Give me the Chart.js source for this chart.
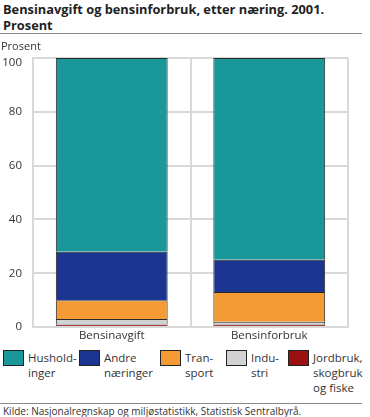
<!DOCTYPE html>
<html>
<head>
<meta charset="utf-8">
<script src="https://cdn.jsdelivr.net/npm/chart.js@4"></script>
<style>
  body { margin: 0; width: 370px; height: 417px; background: #fff; font-family: "Open Sans", sans-serif; color: #222; position: relative; overflow: hidden; }
  #title { position: absolute; left: 3px; top: 1px; font-weight: bold; font-size: 12.8px; line-height: 16px; }
  .rule { position: absolute; left: 0; width: 362px; height: 1px; background: #8a8a8a; }
  #unit { position: absolute; left: 1px; top: 38px; font-size: 11px; color: #333; }
  #chartBox { position: absolute; left: 0; top: 40px; width: 370px; height: 305px; }
  .leg { position: absolute; top: 350px; display: flex; font-size: 11.5px; line-height: 15px; color: #333; }
  .leg .box { width: 19px; height: 14px; border: 1px solid #222; margin-right: 4px; flex: none; }
  #source { position: absolute; left: 3px; top: 404px; font-size: 10px; color: #333; }
</style>
</head>
<body>
<div id="title">Bensinavgift og bensinforbruk, etter næring. 2001.<br>Prosent</div>
<div class="rule" style="top:33px"></div>
<div id="chartBox"><canvas id="chart"></canvas></div>
<div id="unit">Prosent</div>
<div id="legend"></div>
<div class="rule" style="top:403px"></div>
<div id="source">Kilde: Nasjonalregnskap og miljøstatistikk, Statistisk Sentralbyrå.</div>
<script>
// Data
const categories = ["Bensinavgift", "Bensinforbruk"];
const seriesNames = [["Jordbruk,", "skogbruk", "og fiske"], ["Indu-", "stri"], ["Tran-", "sport"], ["Andre", "næringer"], ["Hushold-", "inger"]];
const jordbruk = [1, 1];
const industri = [2, 1];
const transport = [7, 11];
const andre = [18, 12];
const husholdninger = [72, 75];
const yTicks = [0, 20, 40, 60, 80, 100];

const colors = ["#9b1010", "#d2d2d2", "#f59b35", "#1b3590", "#1a9799"];
const values = [jordbruk, industri, transport, andre, husholdninger];

const datasets = values.map((v, i) => ({
  label: seriesNames[i].join(" "),
  data: v,
  backgroundColor: colors[i],
  borderColor: "#2a2a2a",
  borderWidth: 1
}));

// push the top tick label down inside the plot, like the original
const topLabelShift = {
  id: "topLabelShift",
  beforeDraw(chart) {
    chart.scales.y.getLabelItems().forEach(item => {
      if (item.label === "100") item.options.translation[1] += 5;
    });
  }
};

const ctx = document.getElementById("chart").getContext("2d");
const chart = new Chart(ctx, {
  type: "bar",
  data: { labels: categories, datasets },
  plugins: [topLabelShift],
  options: {
    responsive: true,
    maintainAspectRatio: false,
    animation: false,
    layout: { padding: { top: 6, right: 22, bottom: 0, left: 0 } },
    datasets: { bar: { categoryPercentage: 1, barPercentage: 0.71 } },
    plugins: { legend: { display: false }, tooltip: { enabled: false } },
    scales: {
      x: {
        stacked: true,
        grid: { offset: true, color: "#d9d9d9", lineWidth: 2, drawTicks: false },
        border: { color: "#d9d9d9", width: 2 },
        ticks: { color: "#333", font: { family: "Open Sans", size: 11.5 }, padding: 2 }
      },
      y: {
        stacked: true,
        min: 0,
        max: 100,
        afterBuildTicks: axis => { axis.ticks = yTicks.map(v => ({ value: v })); },
        afterFit: axis => { axis.width = 33; },
        grid: { color: "#d9d9d9", lineWidth: 2, drawTicks: false },
        border: { color: "#d9d9d9", width: 2 },
        ticks: { color: "#333", font: { family: "Open Sans", size: 11.5 }, padding: 11 }
      }
    }
  }
});

// Legend (reverse order, Husholdninger first)
const legendX = [3, 79, 160, 226, 288];
const legendEl = document.getElementById("legend");
[4, 3, 2, 1, 0].forEach((idx, pos) => {
  const item = document.createElement("div");
  item.className = "leg";
  item.style.left = legendX[pos] + "px";
  item.innerHTML = `<div class="box" style="background:${colors[idx]}"></div><div>${seriesNames[idx].join("<br>")}</div>`;
  legendEl.appendChild(item);
});
</script>
</body>
</html>
